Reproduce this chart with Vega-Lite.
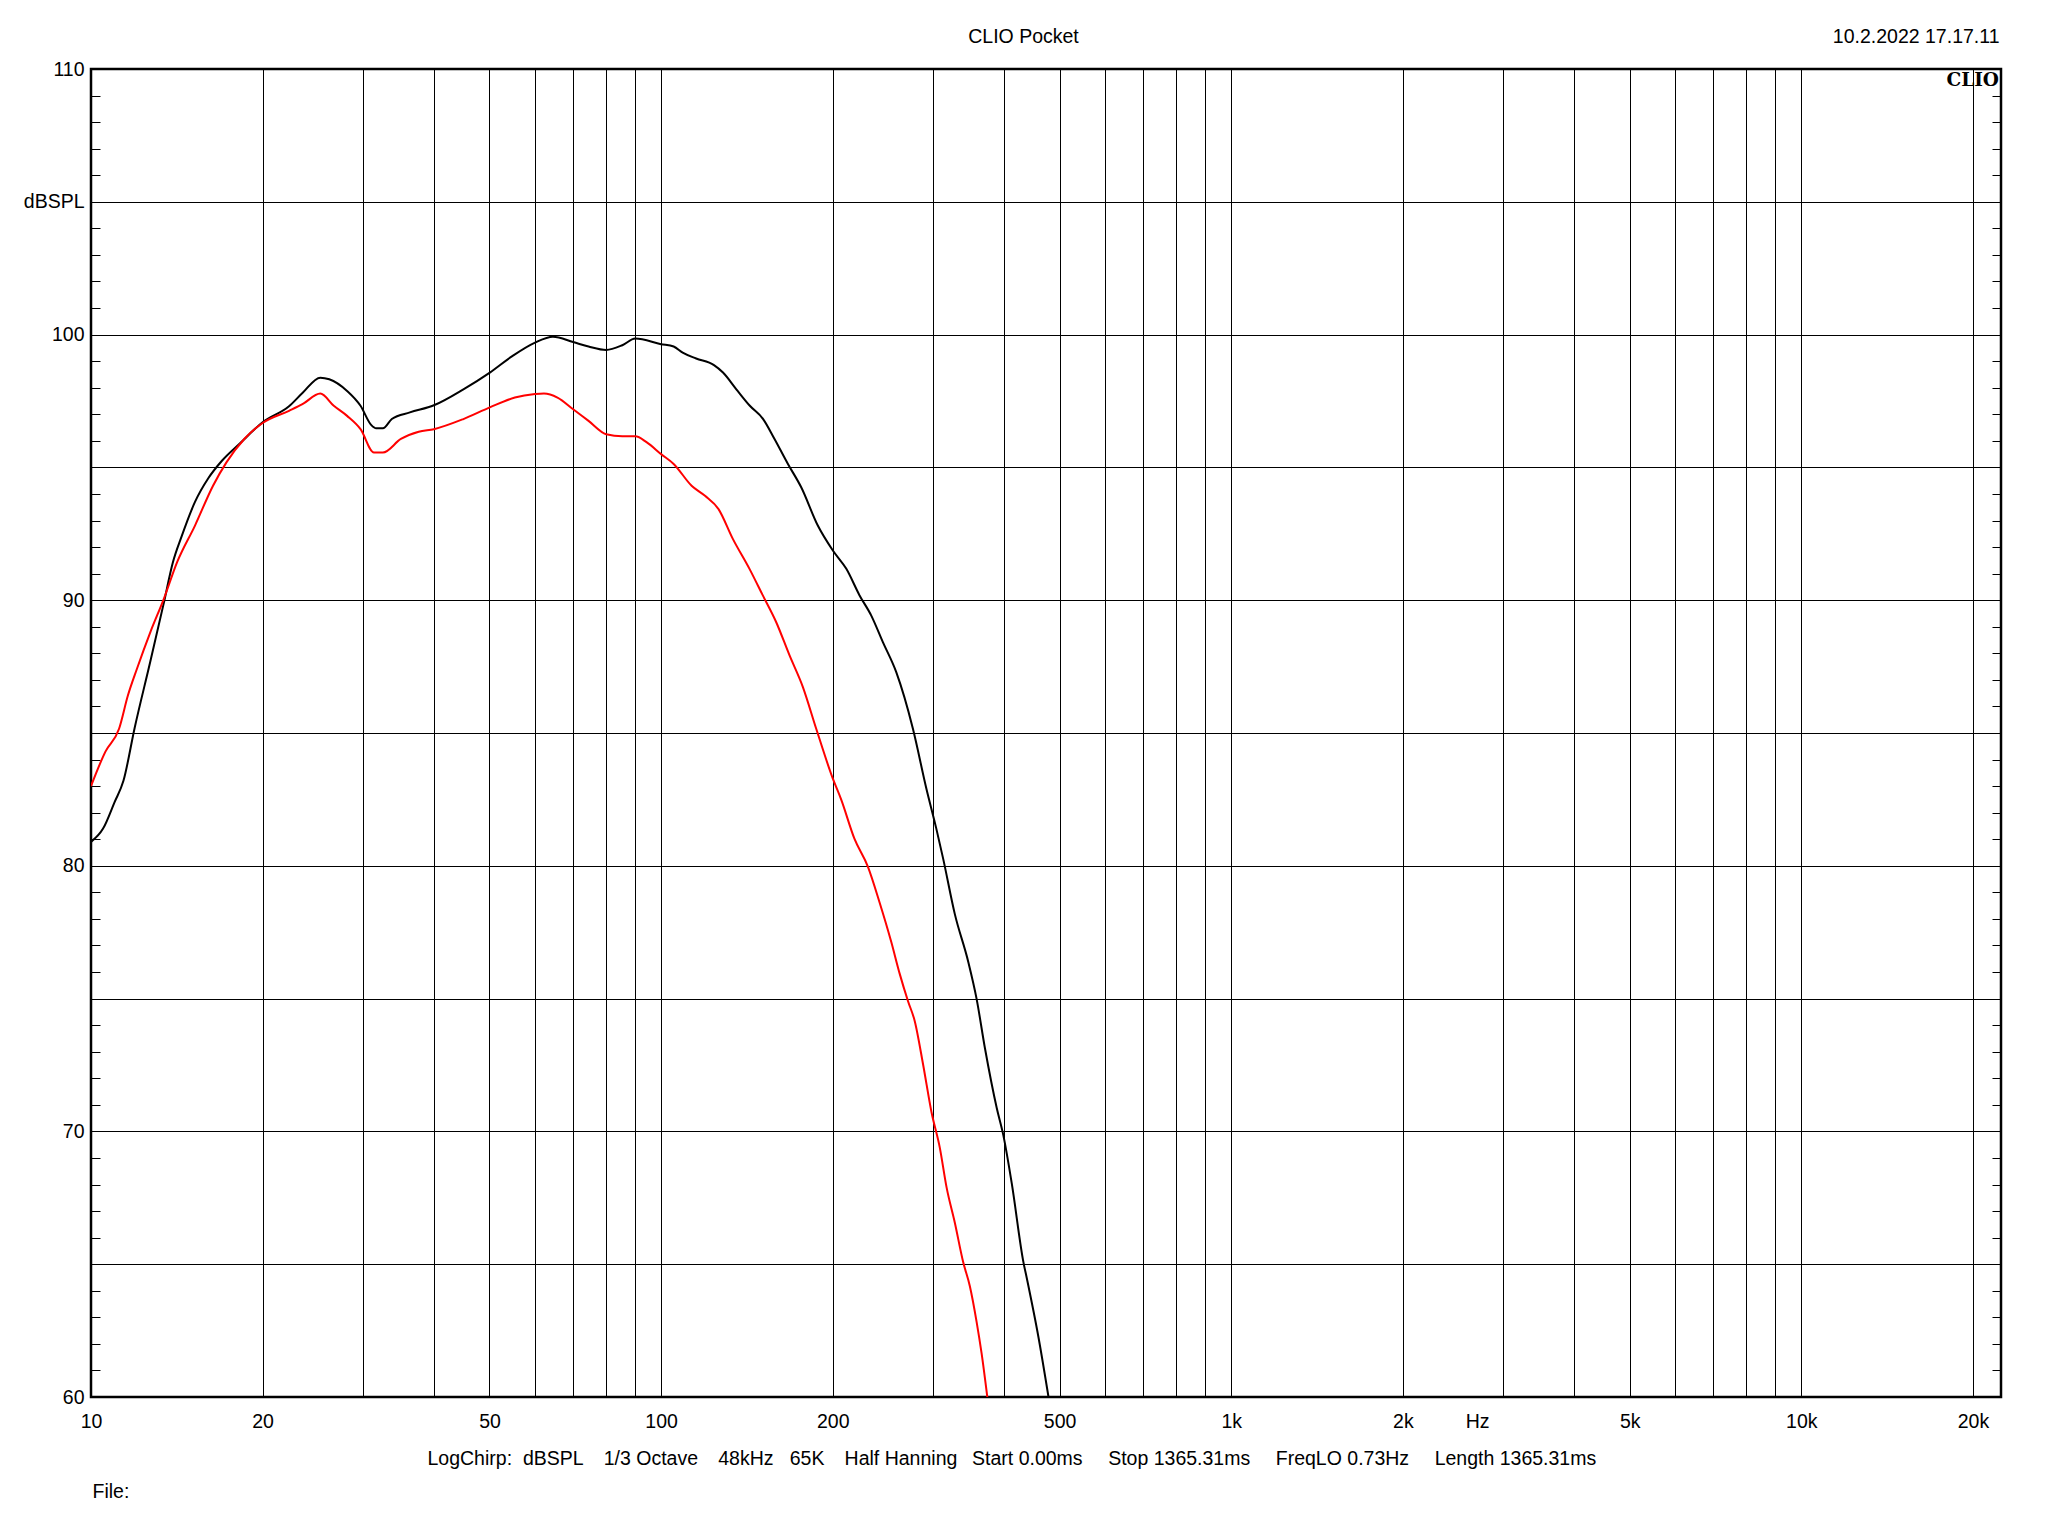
{
  "$schema": "https://vega.github.io/schema/vega-lite/v6.json",
  "width": 1910,
  "height": 1328,
  "autosize": {"type": "none"},
  "padding": {"left": 91, "top": 69, "right": 47, "bottom": 139},
  "background": "#ffffff",
  "config": {
    "font": "Liberation Sans",
    "view": {"stroke": "#000000", "strokeWidth": 2.5},
    "axis": {
      "labelFont": "Liberation Sans", "labelFontSize": 19.5, "labelColor": "#000000",
      "titleFont": "Liberation Sans", "titleFontSize": 19.5, "titleColor": "#000000", "titleFontWeight": "normal",
      "gridColor": "#000000", "gridOpacity": 1, "gridWidth": 1, "tickColor": "#000000"
    }
  },
  "data": {"values": [
    {"s": "a", "f": 10, "db": 80.9}, {"s": "a", "f": 10.5, "db": 81.4}, {"s": "a", "f": 11.0, "db": 82.4}, {"s": "a", "f": 11.4, "db": 83.2},
    {"s": "a", "f": 11.93, "db": 85.2}, {"s": "a", "f": 12.71, "db": 87.7}, {"s": "a", "f": 13.42, "db": 89.9}, {"s": "a", "f": 13.91, "db": 91.4},
    {"s": "a", "f": 14.42, "db": 92.4}, {"s": "a", "f": 15.22, "db": 93.7}, {"s": "a", "f": 16.07, "db": 94.6}, {"s": "a", "f": 16.97, "db": 95.25},
    {"s": "a", "f": 18.24, "db": 95.9}, {"s": "a", "f": 20.0, "db": 96.7}, {"s": "a", "f": 22.25, "db": 97.3}, {"s": "a", "f": 23.49, "db": 97.8},
    {"s": "a", "f": 25.25, "db": 98.38}, {"s": "a", "f": 26.18, "db": 98.32}, {"s": "a", "f": 28.13, "db": 97.88}, {"s": "a", "f": 29.7, "db": 97.32},
    {"s": "a", "f": 31.0, "db": 96.6}, {"s": "a", "f": 31.64, "db": 96.47}, {"s": "a", "f": 32.51, "db": 96.47}, {"s": "a", "f": 33.7, "db": 96.82},
    {"s": "a", "f": 36.25, "db": 97.07}, {"s": "a", "f": 39.95, "db": 97.34}, {"s": "a", "f": 45.0, "db": 97.94}, {"s": "a", "f": 50.07, "db": 98.57},
    {"s": "a", "f": 54.9, "db": 99.2}, {"s": "a", "f": 60.1, "db": 99.7}, {"s": "a", "f": 64.6, "db": 99.92}, {"s": "a", "f": 70.1, "db": 99.72},
    {"s": "a", "f": 74.6, "db": 99.55}, {"s": "a", "f": 80.1, "db": 99.42}, {"s": "a", "f": 85.5, "db": 99.6}, {"s": "a", "f": 90.1, "db": 99.85},
    {"s": "a", "f": 100, "db": 99.64}, {"s": "a", "f": 105.2, "db": 99.55}, {"s": "a", "f": 109.1, "db": 99.32}, {"s": "a", "f": 115.2, "db": 99.1},
    {"s": "a", "f": 123.8, "db": 98.85}, {"s": "a", "f": 128.4, "db": 98.57}, {"s": "a", "f": 135.5, "db": 97.94}, {"s": "a", "f": 143.1, "db": 97.32},
    {"s": "a", "f": 151.0, "db": 96.82}, {"s": "a", "f": 158.1, "db": 96.07}, {"s": "a", "f": 166.9, "db": 95.13}, {"s": "a", "f": 176.1, "db": 94.25},
    {"s": "a", "f": 188.3, "db": 92.81}, {"s": "a", "f": 200.1, "db": 91.87}, {"s": "a", "f": 211.3, "db": 91.18}, {"s": "a", "f": 222.9, "db": 90.18},
    {"s": "a", "f": 233.7, "db": 89.42}, {"s": "a", "f": 244.9, "db": 88.42}, {"s": "a", "f": 258.5, "db": 87.29}, {"s": "a", "f": 276.5, "db": 85.16},
    {"s": "a", "f": 291.9, "db": 82.91}, {"s": "a", "f": 303.9, "db": 81.4}, {"s": "a", "f": 312.4, "db": 80.27}, {"s": "a", "f": 327.5, "db": 78.18},
    {"s": "a", "f": 345.7, "db": 76.39}, {"s": "a", "f": 357.6, "db": 74.99}, {"s": "a", "f": 370.0, "db": 73.11}, {"s": "a", "f": 387.9, "db": 70.88},
    {"s": "a", "f": 398.5, "db": 69.84}, {"s": "a", "f": 412.1, "db": 68.05}, {"s": "a", "f": 432.1, "db": 65.07}, {"s": "a", "f": 438.0, "db": 64.47},
    {"s": "a", "f": 459.2, "db": 62.24}, {"s": "a", "f": 478.1, "db": 60.0},
    {"s": "b", "f": 10, "db": 83.0}, {"s": "b", "f": 10.6, "db": 84.3}, {"s": "b", "f": 11.2, "db": 85.16}, {"s": "b", "f": 11.61, "db": 86.42},
    {"s": "b", "f": 12.04, "db": 87.42}, {"s": "b", "f": 12.71, "db": 88.8}, {"s": "b", "f": 13.42, "db": 90.05}, {"s": "b", "f": 14.16, "db": 91.43},
    {"s": "b", "f": 15.22, "db": 92.81}, {"s": "b", "f": 16.37, "db": 94.31}, {"s": "b", "f": 17.28, "db": 95.19}, {"s": "b", "f": 18.57, "db": 96.07},
    {"s": "b", "f": 20.0, "db": 96.67}, {"s": "b", "f": 22.25, "db": 97.13}, {"s": "b", "f": 23.49, "db": 97.38}, {"s": "b", "f": 25.25, "db": 97.78},
    {"s": "b", "f": 26.66, "db": 97.32}, {"s": "b", "f": 28.13, "db": 96.94}, {"s": "b", "f": 29.7, "db": 96.44}, {"s": "b", "f": 31.36, "db": 95.56},
    {"s": "b", "f": 32.51, "db": 95.56}, {"s": "b", "f": 34.96, "db": 96.07}, {"s": "b", "f": 37.57, "db": 96.34}, {"s": "b", "f": 39.95, "db": 96.44},
    {"s": "b", "f": 45.0, "db": 96.82}, {"s": "b", "f": 50.07, "db": 97.26}, {"s": "b", "f": 55.4, "db": 97.63}, {"s": "b", "f": 60.1, "db": 97.76},
    {"s": "b", "f": 62.3, "db": 97.78}, {"s": "b", "f": 65.8, "db": 97.63}, {"s": "b", "f": 70.1, "db": 97.19}, {"s": "b", "f": 74.6, "db": 96.75},
    {"s": "b", "f": 80.1, "db": 96.25}, {"s": "b", "f": 85.5, "db": 96.17}, {"s": "b", "f": 90.1, "db": 96.17}, {"s": "b", "f": 94.4, "db": 95.94},
    {"s": "b", "f": 100, "db": 95.5}, {"s": "b", "f": 105.2, "db": 95.13}, {"s": "b", "f": 113.1, "db": 94.31}, {"s": "b", "f": 119.4, "db": 93.93},
    {"s": "b", "f": 126.1, "db": 93.43}, {"s": "b", "f": 133.6, "db": 92.31}, {"s": "b", "f": 142.9, "db": 91.18}, {"s": "b", "f": 150.8, "db": 90.18},
    {"s": "b", "f": 159.2, "db": 89.17}, {"s": "b", "f": 168.0, "db": 87.92}, {"s": "b", "f": 177.3, "db": 86.73}, {"s": "b", "f": 187.1, "db": 85.16},
    {"s": "b", "f": 200.1, "db": 83.28}, {"s": "b", "f": 206.9, "db": 82.5}, {"s": "b", "f": 218.4, "db": 81.01}, {"s": "b", "f": 230.5, "db": 79.97},
    {"s": "b", "f": 241.6, "db": 78.63}, {"s": "b", "f": 253.3, "db": 77.14}, {"s": "b", "f": 262.0, "db": 75.95}, {"s": "b", "f": 271.1, "db": 74.9},
    {"s": "b", "f": 278.5, "db": 74.16}, {"s": "b", "f": 288.1, "db": 72.52}, {"s": "b", "f": 298.0, "db": 70.73}, {"s": "b", "f": 308.2, "db": 69.39},
    {"s": "b", "f": 316.7, "db": 67.9}, {"s": "b", "f": 327.5, "db": 66.56}, {"s": "b", "f": 338.8, "db": 65.07}, {"s": "b", "f": 348.0, "db": 64.17},
    {"s": "b", "f": 357.6, "db": 62.83}, {"s": "b", "f": 364.9, "db": 61.64}, {"s": "b", "f": 373.4, "db": 60.0}
  ]},
  "resolve": {"axis": {"x": "independent", "y": "independent"}},
  "layer": [
    {
      "mark": {"type": "line", "strokeWidth": 2, "clip": true, "interpolate": "monotone"},
      "encoding": {
        "x": {"field": "f", "type": "quantitative",
          "scale": {"type": "log", "domain": [10, 22400], "nice": false},
          "axis": {
            "orient": "bottom",
            "values": [10, 20, 30, 40, 50, 60, 70, 80, 90, 100, 200, 300, 400, 500, 600, 700, 800, 900, 1000, 2000, 2700, 3000, 4000, 5000, 6000, 7000, 8000, 9000, 10000, 20000],
            "grid": true,
            "gridOpacity": {"condition": {"test": "datum.value == 2700", "value": 0}, "value": 1},
            "ticks": false, "tickSize": 0, "domain": false,
            "labelPadding": 15.5, "labelFlush": false, "labelOverlap": false, "labelBound": false,
            "labelExpr": "datum.value == 10 ? '10' : datum.value == 20 ? '20' : datum.value == 50 ? '50' : datum.value == 100 ? '100' : datum.value == 200 ? '200' : datum.value == 500 ? '500' : datum.value == 1000 ? '1k' : datum.value == 2000 ? '2k' : datum.value == 2700 ? 'Hz' : datum.value == 5000 ? '5k' : datum.value == 10000 ? '10k' : datum.value == 20000 ? '20k' : ''",
            "title": "LogChirp:\u00a0\u00a0dBSPL\u00a0\u00a0\u00a0\u20091/3 Octave\u00a0\u00a0\u00a0\u200948kHz\u00a0\u00a0\u00a065K\u00a0\u00a0\u00a0\u2009Half Hanning\u00a0\u00a0\u2009Start 0.00ms\u00a0\u00a0\u00a0\u00a0\u2009Stop 1365.31ms\u00a0\u00a0\u00a0\u00a0\u2009FreqLO 0.73Hz\u00a0\u00a0\u00a0\u00a0\u2009Length 1365.31ms",
            "titleX": 336, "titleY": 67, "titleAlign": "left", "titleBaseline": "alphabetic"
          }
        },
        "y": {"field": "db", "type": "quantitative",
          "scale": {"domain": [60, 110], "nice": false, "zero": false},
          "axis": {
            "orient": "left",
            "values": [60, 65, 70, 75, 80, 85, 90, 95, 100, 105, 110],
            "grid": true, "ticks": false, "tickSize": 0, "domain": false,
            "labelPadding": 7, "labelBaseline": "middle", "labelOverlap": false, "labelBound": false, "labelFlush": false,
            "labelExpr": "datum.value == 105 ? 'dBSPL' : (datum.value % 10 == 0 ? datum.label : '')",
            "title": null
          }
        },
        "color": {"field": "s", "type": "nominal", "scale": {"domain": ["a", "b"], "range": ["#000000", "#ff0000"]}, "legend": null}
      }
    },
    {
      "mark": {"type": "point", "opacity": 0},
      "encoding": {
        "x": {"field": "f", "type": "quantitative",
          "axis": {"orient": "bottom", "grid": false, "labels": false, "ticks": false, "tickSize": 0, "domain": false,
            "title": "File:", "titleX": 1, "titleY": 100, "titleAlign": "left", "titleBaseline": "alphabetic"}},
        "y": {"field": "db", "type": "quantitative",
          "axis": {"orient": "left", "values": [60,61,62,63,64,65,66,67,68,69,70,71,72,73,74,75,76,77,78,79,80,81,82,83,84,85,86,87,88,89,90,91,92,93,94,95,96,97,98,99,100,101,102,103,104,105,106,107,108,109,110],
            "grid": false, "labels": false, "ticks": true, "tickSize": -9, "tickWidth": 1, "domain": false, "title": null}}
      }
    },
    {
      "mark": {"type": "point", "opacity": 0},
      "encoding": {
        "x": {"field": "f", "type": "quantitative",
          "axis": {"orient": "top", "grid": false, "labels": false, "ticks": false, "tickSize": 0, "domain": false,
            "title": "CLIO Pocket", "titleX": 932, "titleY": -27, "titleAlign": "center", "titleBaseline": "alphabetic"}},
        "y": {"field": "db", "type": "quantitative",
          "axis": {"orient": "right", "values": [60,61,62,63,64,65,66,67,68,69,70,71,72,73,74,75,76,77,78,79,80,81,82,83,84,85,86,87,88,89,90,91,92,93,94,95,96,97,98,99,100,101,102,103,104,105,106,107,108,109,110],
            "grid": false, "labels": false, "ticks": true, "tickSize": -9, "tickWidth": 1, "domain": false, "title": null}}
      }
    },
    {
      "mark": {"type": "point", "opacity": 0},
      "encoding": {
        "x": {"field": "f", "type": "quantitative",
          "axis": {"orient": "top", "grid": false, "labels": false, "ticks": false, "tickSize": 0, "domain": false,
            "title": "10.2.2022 17.17.11", "titleX": 1908, "titleY": -27, "titleAlign": "right", "titleBaseline": "alphabetic"}},
        "y": {"field": "db", "type": "quantitative", "axis": null}
      }
    },
    {
      "data": {"values": [{"label": "CLIO"}]},
      "mark": {"type": "text", "font": "DejaVu Serif", "fontWeight": "bold", "fontSize": 18.5, "align": "right", "baseline": "top", "dx": -2, "dy": 2, "color": "#000000"},
      "encoding": {
        "x": {"datum": 22400, "type": "quantitative", "axis": null},
        "y": {"datum": 110, "type": "quantitative", "axis": null},
        "text": {"field": "label", "type": "nominal"}
      }
    }
  ]
}
